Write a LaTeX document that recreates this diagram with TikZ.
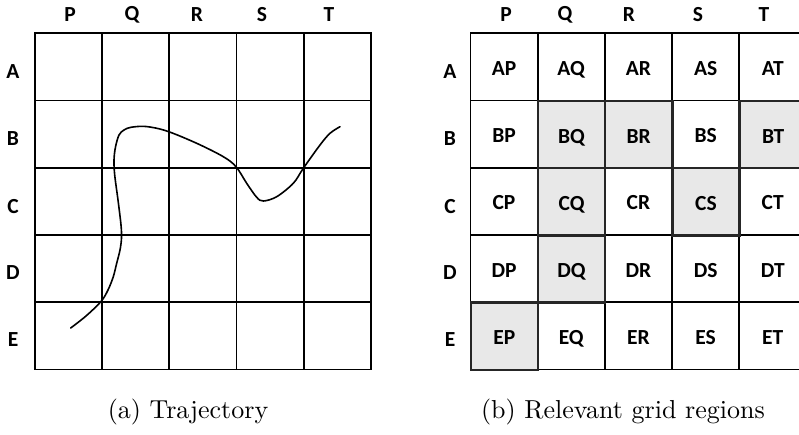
\documentclass[tikz,border=0pt]{standalone}
\usepackage{fontspec}
\newfontfamily\labfont{Carlito}
\newfontfamily\capfont{lmroman10-regular}[Extension=.otf]
\begin{document}
\begin{tikzpicture}[x=1pt,y=-1pt]
\useasboundingbox (0,0) rectangle (799,435);
\clip (0,0) rectangle (799,435);
\tikzset{
  lbl/.style={font=\labfont\bfseries\fontsize{21.5}{24}\selectfont, inner sep=0pt},
  capt/.style={font=\capfont\fontsize{26}{30}\selectfont, inner sep=0pt},
  cellbox/.style={draw=black, line width=1.8pt, minimum size=67.2pt, inner sep=0pt,
     anchor=north west, font=\labfont\bfseries\fontsize{21.5}{24}\selectfont,
     text height=17pt, text depth=0pt},
  hot/.style={fill=gray!18, draw=black!85, line width=2.5pt},
  traj/.style={line width=1.6pt, black, line cap=round},
}
% ---------- left grid (a) ----------
\foreach \r [count=\i from 0] in {A,B,C,D,E}{
  \foreach \c [count=\j from 0] in {P,Q,R,S,T}{
    \node[cellbox] (t\r\c) at ({34+\j*67.2},{32.5+\i*67.2}) {};
  }}
\foreach \c/\x in {P/70,Q/132,R/197,S/262,T/329}
  \node[lbl] (lh\c) at (\x,15) {\c};
\foreach \r/\y in {A/72,B/139,C/207,D/273,E/340}
  \node[lbl] (lr\r) at (13,\y) {\r};
\draw[traj] plot[smooth, tension=0.55] coordinates {
 (70.7,328) (86,316) (101,301.5) (108,290) (113.3,276.7) (116.5,264) (120,250)
 (121.5,238) (121,225) (118,200) (114.7,175) (114,160) (115.5,147) (119,135)
 (124,130) (131,127.3) (146,126.5) (166.7,131) (196.7,143.3) (223.3,156.7)
 (236,166.7) (246.7,183.3) (256.7,197.3) (263.3,201) (276.7,196.7) (293.3,183.3)
 (303.3,168.3) (320,145) (330,133.3) (340,126.7)};
\node[capt] (capa) at (188,412) {(a) Trajectory};
% ---------- right grid (b) ----------
\foreach \r [count=\i from 0] in {A,B,C,D,E}{
  \foreach \c [count=\j from 0] in {P,Q,R,S,T}{
    \node[cellbox] (g\r\c) at ({469.5+\j*67.2},{32.5+\i*67.2}) {\r\c};
  }}
\foreach \r/\c/\i/\j in {B/Q/1/1, B/R/1/2, B/T/1/4, C/Q/2/1, C/S/2/3, D/Q/3/1, E/P/4/0}
  \node[cellbox,hot] (h\r\c) at ({469.5+\j*67.2},{32.5+\i*67.2}) {\r\c};
\foreach \c/\x in {P/506,Q/565,R/629,S/698,T/764}
  \node[lbl] (rh\c) at (\x,15) {\c};
\foreach \r/\y in {A/72,B/139,C/207,D/273,E/340}
  \node[lbl] (rr\r) at (450,\y) {\r};
\node[capt] (capb) at (623,412) {(b) Relevant grid regions};
\end{tikzpicture}
\end{document}
